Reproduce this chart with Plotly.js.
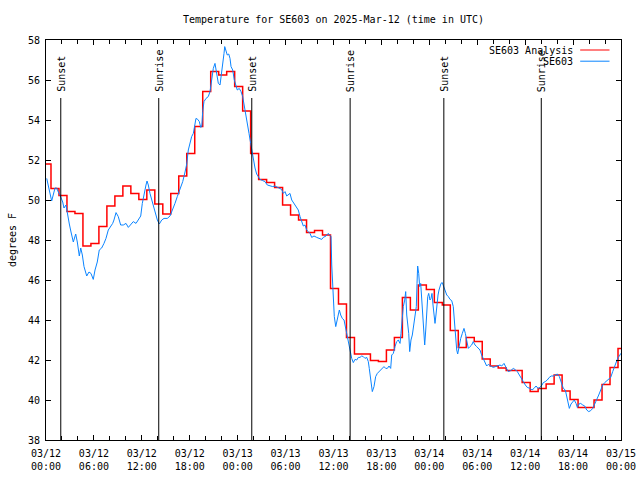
<!DOCTYPE html>
<html>
<head>
<meta charset="utf-8">
<script src="https://cdn.plot.ly/plotly-3.0.1.min.js"></script>
<style>html,body{margin:0;padding:0;background:#fff;}</style>
</head>
<body>
<div id="chart" style="width:640px;height:480px;"></div>
<script>
// ---- Data ----
var baseTime = '2025-03-12 00:00:00';
// Analysis (hourly steps), first value valid from 03/11 23:37:30, one value per hour
var analysisStart = '2025-03-11 23:37:30';
var analysisTemp = [51.8,50.58,50.23,49.43,49.33,47.7,47.83,48.67,49.7,50.2,
  50.7,50.33,50.03,50.5,49.8,49.3,50.33,51.2,52.33,53.67,
  55.42,56.42,56.25,56.42,55.67,54.45,52.33,51.03,50.87,50.63,
  49.75,49.25,49.0,48.37,48.48,48.25,45.58,44.8,43.13,42.3,
  42.3,41.97,41.92,42.5,43.13,45.13,44.5,45.75,45.53,44.87,
  44.75,43.47,42.63,43.13,42.93,42.05,41.7,41.6,41.47,41.47,
  40.88,40.42,40.58,40.8,41.25,40.45,40.03,39.63,39.63,40.0,
  40.78,41.62,42.58,42.58];

// Observations: hours after 03/12 00:00 UTC and temperature (F)
var obsHours = [0.09,0.71,1.13,1.34,1.54,1.75,2.09,2.25,2.50,2.67,
  2.92,3.13,3.42,3.72,3.92,4.17,4.35,4.55,4.76,5.10,
  5.38,5.63,5.92,6.14,6.42,6.67,6.97,7.26,7.51,7.80,
  8.10,8.35,8.51,8.77,9.05,9.35,9.68,10.02,10.31,10.61,
  10.93,11.27,11.56,11.86,12.06,12.27,12.52,12.65,12.81,13.02,
  13.36,13.65,13.94,14.19,14.49,14.78,15.19,15.53,15.87,16.15,
  16.44,16.78,17.12,17.41,
  17.62,17.82,18.03,18.24,18.45,18.66,18.78,19.00,19.20,19.37,
  19.50,19.62,19.78,20.04,20.32,20.54,20.75,20.95,21.16,21.38,
  21.58,21.79,22.00,22.13,22.29,22.38,22.54,22.70,22.88,23.04,
  23.17,23.38,23.58,23.79,23.95,24.20,24.42,24.63,24.79,25.01,
  25.21,25.42,25.63,25.76,25.96,26.17,26.38,26.58,26.80,27.13,
  27.42,27.71,28.05,28.39,28.67,28.96,29.21,29.51,29.71,29.93,
  30.14,30.34,30.55,30.77,30.97,31.18,31.39,31.59,31.81,32.02,
  32.22,32.43,32.64,32.85,33.06,33.27,33.56,33.90,34.22,34.52,
  34.72,35.06,35.35,35.56,35.69,
  35.78,35.90,35.98,36.10,36.28,36.40,36.60,36.73,36.90,37.10,
  37.32,37.44,37.65,37.85,38.07,38.28,38.48,38.69,38.91,39.11,
  39.32,39.53,39.73,39.94,40.16,40.36,40.48,40.66,40.86,41.07,
  41.28,41.49,41.70,41.91,42.11,42.32,42.54,42.74,42.95,43.16,
  43.29,43.49,43.70,43.91,44.11,44.33,44.45,44.62,44.74,44.92,
  45.04,45.17,45.29,45.42,45.54,45.70,45.87,45.99,46.12,46.24,
  46.37,46.46,46.54,46.67,46.79,46.92,47.04,47.17,47.29,47.42,
  47.55,47.67,47.80,47.92,48.08,48.21,48.33,48.46,48.58,48.71,
  48.83,48.96,49.09,49.21,49.34,49.46,49.62,49.80,49.96,50.18,
  50.38,50.59,50.80,51.00,51.13,51.30,51.43,51.55,51.72,51.93,
  52.13,52.34,52.51,52.68,52.88,53.09,53.30,53.50,53.72,53.93,
  54.13,54.34,54.55,54.75,54.97,55.18,55.38,55.60,55.81,56.01,
  56.35,56.64,56.85,57.06,57.35,57.60,57.89,58.19,58.52,58.82,
  59.02,59.27,59.57,59.77,60.02,60.27,60.61,60.86,61.11,61.36,
  61.61,61.86,62.11,62.27,62.52,62.77,63.02,63.27,63.52,63.77,
  64.03,64.28,64.53,64.78,65.03,65.20,65.40,65.53,65.74,65.95,
  66.15,66.37,66.53,66.74,66.95,67.21,67.46,67.71,67.96,68.21,
  68.46,68.71,68.96,69.21,69.46,69.71,69.96,70.21,70.46,70.71,
  70.96,71.21,71.46,71.63,71.80,71.97];
var obsTemp = [51.08,49.95,50.6,50.6,50.4,50.25,49.9,49.6,49.75,49.3,
  48.8,48.4,47.9,48.3,47.9,47.2,47.6,47.25,46.67,46.2,
  46.4,46.33,46.03,46.5,46.9,47.5,47.6,47.83,48.08,48.5,
  48.67,48.83,49.0,49.37,49.17,48.75,48.75,48.83,48.63,48.75,
  48.92,48.83,49.0,49.2,49.83,50.33,50.75,50.95,50.75,50.33,
  49.83,49.33,49.0,48.8,49.0,49.08,49.08,49.2,49.5,49.83,
  50.17,50.5,50.92,51.4,
  51.8,52.5,52.92,53.17,53.33,53.75,54.08,54.03,53.92,53.63,
  53.67,54.42,54.92,55.08,55.17,55.42,56.17,56.58,56.83,56.17,
  55.83,55.75,56.33,56.92,57.33,57.67,57.42,57.25,57.3,57.08,
  56.67,56.5,56.0,55.67,55.5,55.58,55.42,55.17,54.83,54.33,
  53.83,53.33,52.83,52.5,52.08,51.6,51.3,51.2,51.03,50.97,
  50.92,50.75,50.7,50.67,50.7,50.63,50.58,50.53,50.33,50.42,
  50.2,50.25,50.33,50.0,49.87,49.75,49.58,49.5,49.17,48.92,
  48.7,48.75,48.5,48.42,48.33,48.13,48.2,48.13,48.08,48.03,
  48.13,48.2,48.33,48.25,48.17,
  46.75,45.83,44.83,44.17,43.67,43.92,44.33,44.5,44.25,44.08,
  44.0,43.75,43.33,43.0,42.55,42.08,41.87,42.03,42.0,42.13,
  42.13,42.2,42.17,42.08,42.13,41.92,41.58,41.0,40.42,40.67,
  41.17,41.33,41.42,41.5,41.58,41.67,41.58,41.58,41.7,41.58,
  42.25,42.33,42.67,42.92,43.0,42.83,43.33,44.0,44.67,45.0,
  45.42,44.25,43.83,43.33,42.42,43.0,43.25,43.67,44.0,44.5,
  44.67,45.83,46.7,46.33,45.67,45.83,45.0,43.83,43.0,42.75,
  43.5,44.33,45.17,45.33,45.0,45.08,45.33,44.75,44.17,43.83,
  44.25,44.83,45.25,45.5,45.67,45.83,45.87,45.67,45.5,45.25,
  45.17,45.03,44.97,44.67,44.0,43.0,42.5,42.3,42.67,43.08,
  43.33,43.58,43.33,42.88,42.58,42.67,42.75,42.92,42.75,42.67,
  42.58,42.5,42.25,42.08,41.87,41.7,41.78,41.7,41.67,41.63,
  41.67,41.7,41.75,41.7,41.83,41.63,41.42,41.47,41.58,41.5,
  41.42,41.25,41.08,40.92,40.75,40.63,40.58,40.5,40.58,40.7,
  40.58,40.63,40.75,40.87,40.92,41.0,41.13,41.2,41.2,41.25,
  41.3,41.17,40.92,40.58,40.5,40.17,39.92,39.58,39.8,39.92,
  40.0,39.83,39.63,39.8,39.83,39.75,39.7,39.5,39.42,39.47,
  39.58,39.8,40.0,40.25,40.5,40.75,40.87,40.97,41.03,41.13,
  41.42,41.67,42.0,42.13,42.2,42.33];

// Sun events (UTC)
var sunTimes = ['2025-03-12 01:51','2025-03-12 14:07','2025-03-13 01:46',
                '2025-03-13 14:05','2025-03-14 01:49','2025-03-14 14:01'];
var sunLabels = ['Sunset','Sunrise','Sunset','Sunrise','Sunset','Sunrise'];

var seriesNames = ['SE603 Analysis','SE603'];
var seriesColors = ['#ff0000','#0a84ff'];

var titleText = 'Temperature for SE603 on 2025-Mar-12 (time in UTC)';
var yLabel = 'degrees F';
var xRange = ['2025-03-12 00:00','2025-03-15 00:00'];
var yRange = [38, 58];

// ---- Helpers ----
function toMs(s){ var p = s.split(/[- :]/).map(Number);
  return Date.UTC(p[0],p[1]-1,p[2],p[3]||0,p[4]||0,p[5]||0); }
function fmt(ms){ return new Date(ms).toISOString().replace('T',' ').slice(0,19); }
var HOUR = 3600000;
var aStart = toMs(analysisStart);
var analysisTimes = analysisTemp.map(function(_,i){ return fmt(aStart + i*HOUR); });
var base = toMs(baseTime);
var obsTimes = obsHours.map(function(h){ return fmt(base + h*HOUR); });

var FONT = 'DejaVu Sans Mono, Liberation Mono, monospace';

var traces = [
  {x: analysisTimes, y: analysisTemp, type:'scatter', mode:'lines',
   line:{shape:'hv', color:seriesColors[0], width:1.5}, name:seriesNames[0]},
  {x: obsTimes, y: obsTemp, type:'scatter', mode:'lines',
   line:{color:seriesColors[1], width:1}, name:seriesNames[1]}
];

var shapes = [], annotations = [];
sunTimes.forEach(function(t,i){
  shapes.push({type:'line', xref:'x', yref:'y', x0:t, x1:t, y0:yRange[0], y1:55.1,
    line:{color:'#000', width:1}, layer:'above'});
  annotations.push({x:t, y:55.35, xref:'x', yref:'y', text:sunLabels[i], textangle:-90,
    showarrow:false, xanchor:'center', yanchor:'bottom', borderpad:0,
    font:{family:FONT, size:10, color:'#000'}});
});
// legend (gnuplot style: text then line sample)
var legY = [0.975, 0.947];
seriesNames.forEach(function(n,i){
  annotations.push({xref:'paper', yref:'paper', x:0.918, y:legY[i], text:n, showarrow:false,
    xanchor:'right', yanchor:'middle', borderpad:0, font:{family:FONT, size:10, color:'#000'}});
  shapes.push({type:'line', xref:'paper', yref:'paper', x0:0.929, x1:0.980, y0:legY[i], y1:legY[i],
    line:{color:seriesColors[i], width:1}});
});

var layout = {
  width:640, height:480,
  margin:{l:46, r:19, t:40, b:40},
  paper_bgcolor:'#fff', plot_bgcolor:'#fff',
  showlegend:false,
  font:{family:FONT, size:10, color:'#000'},
  title:{text:titleText, font:{family:FONT, size:10, color:'#000'},
         x:0.5, xref:'paper', xanchor:'center', y:1-19/480, yref:'container', yanchor:'middle'},
  xaxis:{type:'date', range:xRange, tick0:'2025-03-12 00:00', dtick:6*HOUR,
    tickformat:'%m/%d<br>%H:%M', ticks:'inside', ticklen:5, tickcolor:'#000',
    ticklabelstandoff:4,
    showline:true, linecolor:'#000', linewidth:1, mirror:'ticks', showgrid:false, zeroline:false,
    minor:{dtick:2*HOUR, ticks:'inside', ticklen:4, tickcolor:'#000', showgrid:false},
    tickfont:{family:FONT, size:10, color:'#000'}},
  yaxis:{range:yRange, dtick:2, ticks:'inside', ticklen:5, tickcolor:'#000',
    ticklabelstandoff:3,
    showline:true, linecolor:'#000', linewidth:1, mirror:'ticks', showgrid:false, zeroline:false,
    tickfont:{family:FONT, size:10, color:'#000'},
    title:{text:yLabel, font:{family:FONT, size:10, color:'#000'}, standoff:9}},
  shapes:shapes, annotations:annotations
};

Plotly.newPlot('chart', traces, layout, {staticPlot:true, displayModeBar:false});
</script>
</body>
</html>
